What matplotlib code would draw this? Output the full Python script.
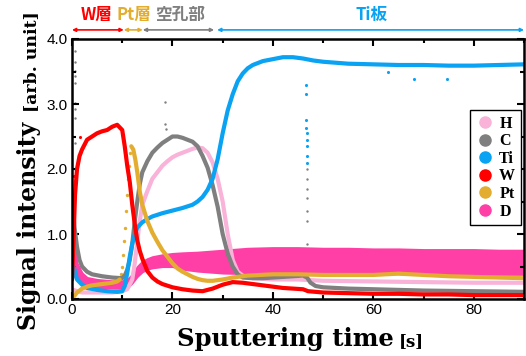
import numpy as np
import matplotlib.pyplot as plt
from matplotlib.lines import Line2D
from matplotlib.ticker import MultipleLocator

# colours of the elements
col_H = '#f9b3d9'
col_C = '#7f7f7f'
col_Ti = '#0aa2f2'
col_W = '#ff0000'
col_Pt = '#e3ad2f'
col_D = '#ff3fa6'

# --- data (time [s], intensity) ---
w_t = [0, 0.3, 0.6, 1.0, 1.5, 2, 3, 4, 5, 6, 7, 8, 9, 10, 10.5, 11, 11.5, 12, 12.5, 13,
       13.5, 14, 15, 16, 17, 18, 20, 22, 24, 26, 28, 30, 32, 34, 36, 38, 40, 42, 44, 46,
       47, 50, 55, 60, 65, 70, 75, 80, 85, 90]
w_v = [0.3, 0.9, 1.6, 2.0, 2.2, 2.3, 2.45, 2.5, 2.55, 2.58, 2.6, 2.65, 2.68, 2.6, 2.35,
       2.05, 1.8, 1.45, 1.15, 0.9, 0.74, 0.62, 0.43, 0.33, 0.27, 0.23, 0.18, 0.15, 0.13,
       0.12, 0.16, 0.22, 0.26, 0.25, 0.23, 0.21, 0.19, 0.17, 0.16, 0.15, 0.12, 0.1, 0.09,
       0.08, 0.08, 0.07, 0.07, 0.06, 0.06, 0.06]

c_t = [0, 0.2, 0.5, 1, 1.5, 2, 3, 4, 6, 8, 10, 10.5, 11, 11.5, 12, 12.5, 13, 13.5, 14, 15,
       16, 17, 18, 19, 20, 21, 22, 23, 24, 25, 26, 27, 28, 29, 30, 31, 32, 33, 34, 36, 38,
       40, 42, 44, 46, 46.8, 47.5, 48.5, 50, 55, 60, 70, 80, 90]
c_v = [1.6, 1.4, 1.1, 0.8, 0.6, 0.5, 0.42, 0.38, 0.35, 0.33, 0.32, 0.36, 0.45, 0.6, 0.85,
       1.2, 1.5, 1.77, 1.95, 2.12, 2.25, 2.33, 2.4, 2.45, 2.5, 2.5, 2.48, 2.45, 2.42, 2.35,
       2.2, 2.02, 1.75, 1.42, 1.0, 0.7, 0.5, 0.38, 0.33, 0.32, 0.32, 0.33, 0.34, 0.35,
       0.36, 0.33, 0.25, 0.2, 0.18, 0.16, 0.15, 0.13, 0.12, 0.11]

ti_t = [0, 0.3, 0.7, 1, 2, 3, 5, 7, 9, 10, 10.5, 11, 11.5, 12, 12.5, 13, 14, 15, 16, 18,
        20, 22, 24, 25, 26, 27, 28, 29, 30, 31, 32, 33, 34, 35, 36, 37, 38, 40, 42, 43, 44,
        46, 48, 50, 55, 60, 65, 70, 75, 80, 85, 90]
ti_v = [0.3, 0.5, 0.4, 0.3, 0.22, 0.17, 0.14, 0.12, 0.11, 0.12, 0.2, 0.4, 0.65, 0.85,
        1.0, 1.1, 1.18, 1.23, 1.27, 1.32, 1.36, 1.4, 1.45, 1.5, 1.57, 1.68, 1.85, 2.15,
        2.55, 2.9, 3.15, 3.35, 3.47, 3.55, 3.6, 3.63, 3.66, 3.69, 3.72, 3.72, 3.72, 3.7,
        3.67, 3.65, 3.62, 3.61, 3.6, 3.6, 3.59, 3.59, 3.6, 3.61]

h_t = [0, 1, 2, 4, 6, 8, 10, 11, 12, 12.5, 13, 13.5, 14, 15, 16, 17, 18, 19, 20, 21, 22,
       23, 24, 25, 26, 27, 28, 29, 30, 31, 32, 33, 34, 36, 40, 45, 50, 60, 70, 80, 90]
h_v = [0.15, 0.12, 0.1, 0.1, 0.1, 0.1, 0.12, 0.15, 0.3, 0.55, 0.9, 1.2, 1.45, 1.66, 1.85,
       1.95, 2.05, 2.12, 2.18, 2.22, 2.25, 2.28, 2.31, 2.33, 2.32, 2.25, 2.1, 1.85, 1.5,
       1.0, 0.6, 0.42, 0.36, 0.32, 0.3, 0.3, 0.28, 0.27, 0.26, 0.25, 0.25]

pt_t = [0, 0.5, 1, 2, 3, 4, 6, 8, 9, 9.5]
pt_v = [0.02, 0.05, 0.1, 0.16, 0.19, 0.21, 0.23, 0.25, 0.27, 0.3]
pt_rise_t = [9.8, 10.0, 10.2, 10.4, 10.6, 10.8, 11.0, 11.2, 11.4, 11.6]
pt_rise_v = [0.38, 0.5, 0.68, 0.9, 1.1, 1.35, 1.6, 1.85, 2.05, 2.25]
pt2_t = [11.8, 12.2, 12.6, 13, 13.5, 14, 15, 16, 17, 18, 19, 20, 21, 22, 23, 24, 25, 26,
         27, 28, 30, 32, 35, 40, 45, 50, 55, 60, 65, 70, 75, 80, 85, 90]
pt2_v = [2.35, 2.3, 2.15, 1.95, 1.65, 1.45, 1.2, 1.02, 0.88, 0.75, 0.65, 0.55, 0.47, 0.42,
         0.38, 0.34, 0.31, 0.29, 0.28, 0.28, 0.3, 0.33, 0.36, 0.38, 0.38, 0.37, 0.37, 0.37,
         0.39, 0.37, 0.35, 0.34, 0.33, 0.32]

d_t = [0, 0.5, 1, 2, 3, 5, 8, 10, 11, 12, 13, 14, 15, 16, 18, 20, 22, 25, 30, 35, 40, 45,
       50, 55, 60, 65, 70, 75, 80, 85, 90]
d_lo = [0.55, 0.4, 0.3, 0.22, 0.2, 0.18, 0.17, 0.16, 0.17, 0.25, 0.35, 0.42, 0.46, 0.48,
        0.5, 0.5, 0.46, 0.43, 0.4, 0.39, 0.38, 0.38, 0.38, 0.39, 0.39, 0.39, 0.39, 0.38,
        0.38, 0.38, 0.38]
d_hi = [1.0, 0.8, 0.55, 0.4, 0.33, 0.3, 0.28, 0.28, 0.3, 0.38, 0.5, 0.58, 0.62, 0.65,
        0.68, 0.7, 0.71, 0.72, 0.75, 0.78, 0.79, 0.79, 0.78, 0.78, 0.77, 0.77, 0.76, 0.76,
        0.76, 0.75, 0.75]

# stray points
c_dot_t = [0.5, 0.5, 0.6, 0.6, 0.5, 0.6, 0.5, 0.6, 0.5, 0.5, 18.5, 18.6, 18.7,
           46.7, 46.7, 46.7, 46.7, 46.7, 46.7, 46.7]
c_dot_v = [3.82, 3.64, 3.51, 3.43, 3.33, 3.02, 2.92, 2.79, 2.4, 2.0, 3.03, 2.69, 2.62,
           2.0, 1.85, 1.7, 1.55, 1.35, 1.2, 0.85]
ti_dot_t = [46.6, 46.6, 46.6, 46.6, 46.7, 46.7, 46.7, 46.7, 46.7, 63, 68, 74.6]
ti_dot_v = [3.3, 3.15, 2.75, 2.63, 2.55, 2.45, 2.35, 2.2, 2.1, 3.5, 3.39, 3.39]
w_dot_t = [0.3, 0.4, 0.3, 0.4, 1.6]
w_dot_v = [1.9, 1.5, 1.1, 0.7, 2.5]

# layer labels on top
layer_names = ['W層', 'Pt層', '空孔部', 'Ti板']
layer_start = [0, 10.3, 14.1, 28.9]
layer_end = [10.3, 14.1, 28.3, 90]
layer_cols = [col_W, col_Pt, col_C, col_Ti]

legend_names = ['H', 'C', 'Ti', 'W', 'Pt', 'D']
legend_cols = [col_H, col_C, col_Ti, col_W, col_Pt, col_D]

fig = plt.figure(figsize=(5.26, 3.56), dpi=100)
ax = fig.add_axes([72 / 526, 1 - 299 / 356, 452 / 526, 260 / 356])

lw = 3
ax.plot(h_t, h_v, color=col_H, lw=lw, solid_capstyle='round')
ax.plot(c_t, c_v, color=col_C, lw=lw, solid_capstyle='round')
ax.scatter(c_dot_t, c_dot_v, s=3, color=col_C, lw=0)
ax.plot(ti_t, ti_v, color=col_Ti, lw=lw, solid_capstyle='round')
ax.scatter(ti_dot_t, ti_dot_v, s=5, color=col_Ti, lw=0)
ax.plot(w_t, w_v, color=col_W, lw=lw, solid_capstyle='round')
ax.scatter(w_dot_t, w_dot_v, s=5, color=col_W, lw=0)
ax.plot(pt_t, pt_v, color=col_Pt, lw=lw, solid_capstyle='round')
ax.scatter(pt_rise_t, pt_rise_v, s=6, color=col_Pt, lw=0)
ax.plot(pt2_t, pt2_v, color=col_Pt, lw=lw, solid_capstyle='round')
ax.fill_between(d_t, d_lo, d_hi, color=col_D, lw=1.5, edgecolor=col_D)

ax.set_xlim(0, 90)
ax.set_ylim(0, 4.0)
ax.xaxis.set_major_locator(MultipleLocator(20))
ax.xaxis.set_minor_locator(MultipleLocator(10))
ax.yaxis.set_major_locator(MultipleLocator(1.0))
ax.yaxis.set_minor_locator(MultipleLocator(0.5))
ax.set_yticklabels([f'{v:.1f}' for v in ax.get_yticks()])
ax.tick_params(which='both', direction='in', top=True, right=True, width=1.5,
               labelsize=11, pad=3)
ax.tick_params(which='major', length=5)
ax.tick_params(which='minor', length=3)
for lab in ax.get_xticklabels() + ax.get_yticklabels():
    lab.set_family('Liberation Sans')
for sp in ax.spines.values():
    sp.set_linewidth(1.8)

# layer arrows
for name, s, e, col in zip(layer_names, layer_start, layer_end, layer_cols):
    ax.annotate('', xy=(s, 4.14), xytext=(e, 4.14), annotation_clip=False,
                arrowprops=dict(arrowstyle='<|-|>', color=col, lw=1.2,
                                mutation_scale=5, shrinkA=0, shrinkB=0))
label_x = [5, 12.3, 21.5, 59.7]
for name, x, col in zip(layer_names, label_x, layer_cols):
    ax.text(x, 4.37, name, color=col, ha='center', va='center', fontsize=12,
            fontweight='bold', family=['Noto Sans CJK JP', 'DejaVu Sans'], clip_on=False)

handles = [Line2D([], [], ls='none', marker='o', ms=8, mfc=c, mec=c) for c in legend_cols]
leg = ax.legend(handles, legend_names, loc='upper right', bbox_to_anchor=(0.993, 0.727),
                borderaxespad=0, fancybox=False, edgecolor='black', framealpha=1,
                handletextpad=0.3, labelspacing=0.1, borderpad=0.35, handlelength=1.2,
                prop={'family': 'Liberation Serif', 'weight': 'bold', 'size': 11.5})
leg.get_frame().set_linewidth(1.0)

# axis titles
serif = 'DejaVu Serif'
fig.text(29 / 526, 1 - 226 / 356, 'Signal intensity', rotation=90, ha='center',
         va='center', fontsize=17, fontweight='bold', family=serif)
fig.text(32 / 526, 1 - 62 / 356, '[arb. unit]', rotation=90, ha='center',
         va='center', fontsize=12.5, fontweight='bold', family=serif)
fig.text(285 / 526, 1 - 346 / 356, 'Sputtering time', ha='center', va='baseline',
         fontsize=17.5, fontweight='bold', family=serif)
fig.text(411 / 526, 1 - 346 / 356, '[s]', ha='center', va='baseline',
         fontsize=12, fontweight='bold', family=serif)

fig.savefig('out.png', dpi=100)
